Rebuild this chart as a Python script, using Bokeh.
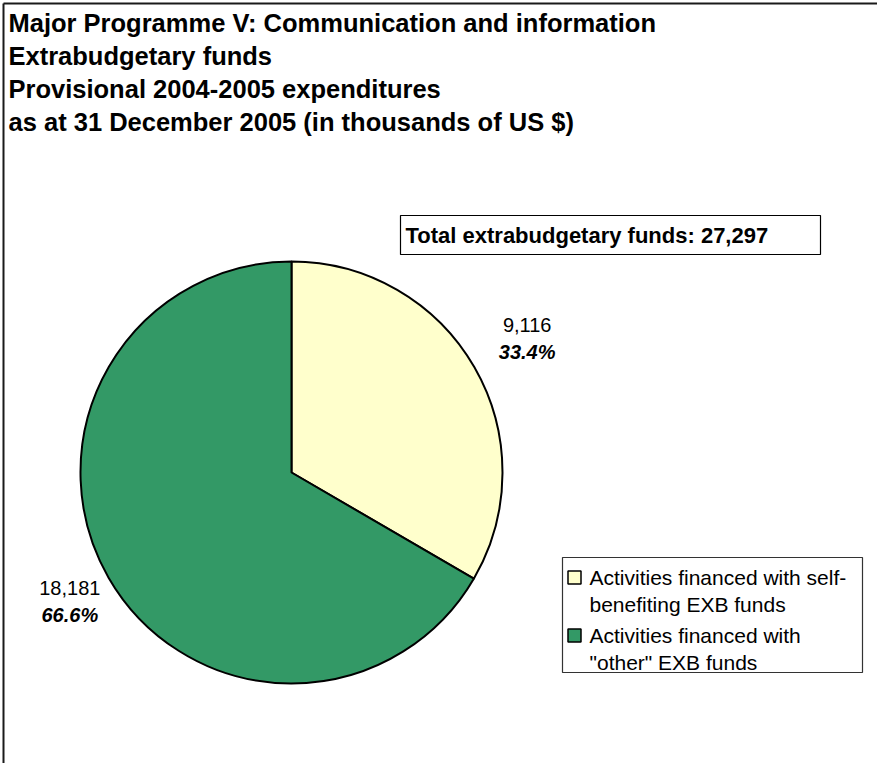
import numpy as np
from bokeh.plotting import figure
from bokeh.models import Range1d, ColumnDataSource
from bokeh.core.properties import value
from bokeh.embed import file_html
from bokeh.resources import INLINE

# ---- data ----
title_lines = [
    "Major Programme V: Communication and information",
    "Extrabudgetary  funds",
    "Provisional 2004-2005 expenditures",
    "as at 31 December 2005 (in thousands of US $)",
]
categories = [
    "Activities financed with self-\nbenefiting EXB funds",
    "Activities financed with\n\"other\" EXB funds",
]
values = [9116, 18181]
colors = ["#FFFFCC", "#339966"]
total_prefix = "Total extrabudgetary funds: "

FONT = value("Liberation Sans")

# ---- layout ----
W, H = 877, 763
OX, OY = 0, 0  # page position of the figure


def px(x):
    return x - OX


def py(y):
    return H - (y - OY)


p = figure(width=W, height=H, x_range=Range1d(0, W), y_range=Range1d(0, H),
           output_backend="svg", toolbar_location=None, min_border=0,
           outline_line_color=None)
p.axis.visible = False
p.grid.visible = False
p.background_fill_color = "white"
p.border_fill_color = "white"

# chart area border (top & left visible)
p.segment(x0=[px(3), px(3)], y0=[py(3), py(3)], x1=[px(900), px(3)], y1=[py(3), py(800)],
          line_color="#1a1a1a", line_width=2)

# title
p.text(x=[px(8)] * len(title_lines), y=[py(22 + 33 * i) for i in range(len(title_lines))],
       text=title_lines, text_font=FONT, text_font_style="bold", text_font_size="25.5px",
       text_baseline="middle", text_align="left", text_color="black")

# pie
vals = np.array(values, dtype=float)
total = vals.sum()
fr = vals / total
cum = np.concatenate([[0], np.cumsum(fr)])
start = np.pi / 2 - 2 * np.pi * cum[:-1]
end = np.pi / 2 - 2 * np.pi * cum[1:]
cx, cy, R = px(291), py(472), 211
src = ColumnDataSource(dict(start=start, end=end, color=colors))
p.wedge(x=cx, y=cy, radius=R, start_angle="start", end_angle="end", direction="clock",
        fill_color="color", line_color="black", line_width=2, source=src)

# data labels
mid = (start + end) / 2
t = 1.25 * R
lx = cx + t * np.cos(mid) + 7
ly = cy + t * np.sin(mid) + 3
p.text(x=lx, y=ly + 13, text=[f"{int(v):,}" for v in values], text_font=FONT,
       text_font_size="20px", text_align="center", text_baseline="middle", text_color="black")
p.text(x=lx, y=ly - 14, text=[f"{f*100:.1f}%" for f in fr], text_font=FONT,
       text_font_size="20px", text_font_style="bold italic", text_align="center",
       text_baseline="middle", text_color="black")

# total box
p.quad(left=[px(400)], right=[px(820)], top=[py(215)], bottom=[py(254)],
       fill_color="white", line_color="black", line_width=1.2)
p.text(x=[px(405)], y=[py(235)], text=[f"{total_prefix}{int(total):,}"], text_font=FONT,
       text_font_style="bold", text_font_size="22px", text_baseline="middle",
       text_align="left", text_color="black")

# legend
p.quad(left=[px(562)], right=[px(862)], top=[py(557)], bottom=[py(672)],
       fill_color="white", line_color="#333333", line_width=1.2)
line_gap = 27
entry_y = [577, 635]
for i, (cat, col) in enumerate(zip(categories, colors)):
    p.rect(x=[px(574)], y=[py(entry_y[i])], width=13, height=13, fill_color=col,
           line_color="black", line_width=1.5)
    lines = cat.split("\n")
    p.text(x=[px(589)] * len(lines), y=[py(entry_y[i] + line_gap * k) for k in range(len(lines))],
           text=lines, text_font=FONT, text_font_size="21px", text_baseline="middle",
           text_align="left", text_color="black")

open("out.html", "w").write(file_html(p, INLINE))
